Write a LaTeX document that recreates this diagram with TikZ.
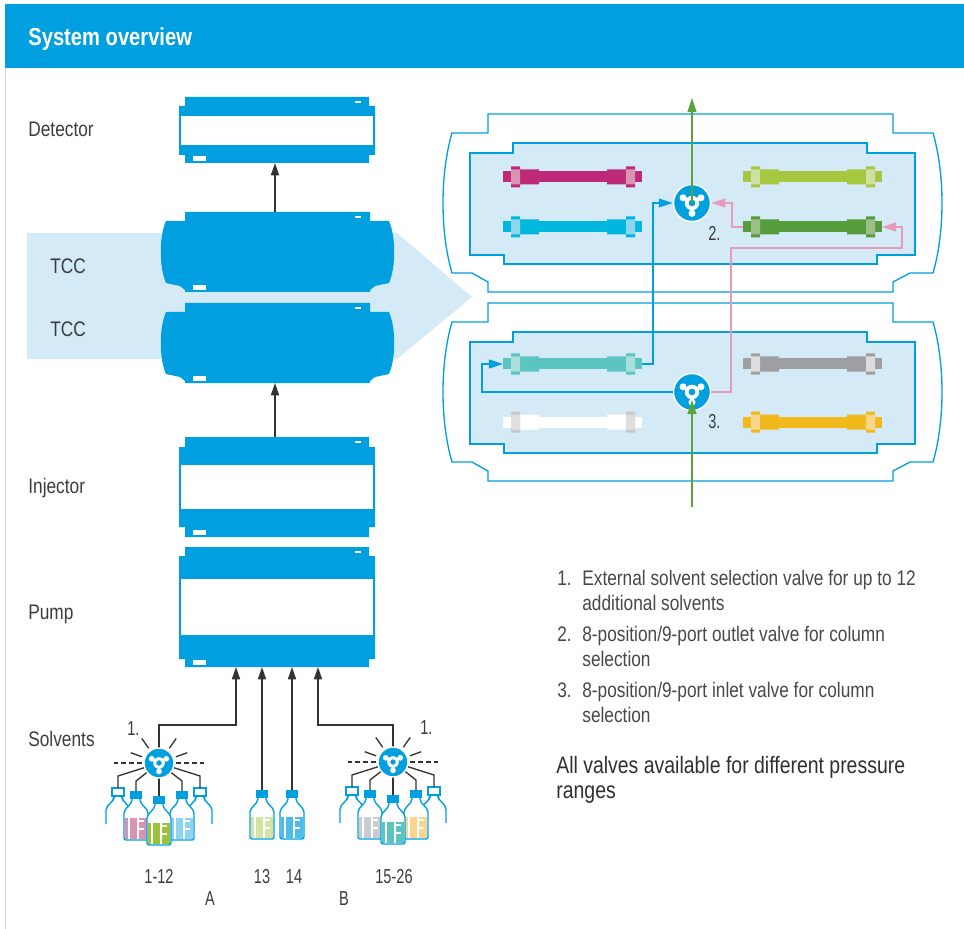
\documentclass[tikz,border=0pt]{standalone}
\usepackage{fontspec}
\setmainfont{Liberation Sans}[FakeStretch=0.82]
\newfontfamily\numfont{Liberation Sans}[FakeStretch=0.72]
\definecolor{agblue}{HTML}{009FE0}
\definecolor{panelblue}{HTML}{D4EAF7}
\definecolor{linegrey}{HTML}{333333}
\definecolor{labelgrey}{HTML}{3C3C3C}
\definecolor{notegrey}{HTML}{484848}
\definecolor{framegrey}{HTML}{D5D5D5}
\definecolor{flowgreen}{HTML}{5AA33C}
\definecolor{flowpink}{HTML}{E59CBC}
% column bodies and their end fittings
\definecolor{colmagenta}{HTML}{BE2A78}\definecolor{fitmagenta}{HTML}{D994B4}
\definecolor{colcyan}{HTML}{00B7E0}\definecolor{fitcyan}{HTML}{8CD7EF}
\definecolor{collime}{HTML}{A6C740}\definecolor{fitlime}{HTML}{CFE1A0}
\definecolor{colgreen}{HTML}{569C3C}\definecolor{fitgreen}{HTML}{9CBF88}
\definecolor{colteal}{HTML}{5CC4C1}\definecolor{fitteal}{HTML}{A9DFDC}
\definecolor{colgrey}{HTML}{9D9FA2}\definecolor{fitgrey}{HTML}{DCDDDE}
\definecolor{colyellow}{HTML}{F2B91C}\definecolor{fityellow}{HTML}{F9D68C}
\definecolor{fitwhite}{HTML}{C8C8C8}\definecolor{fitwhitein}{HTML}{DFDFDF}
% solvent colours
\definecolor{solpink}{HTML}{D994B2}
\definecolor{solgreen}{HTML}{9CC23C}
\definecolor{sollblue}{HTML}{8FD4EE}
\definecolor{solgrey}{HTML}{C8CDD2}
\definecolor{solteal}{HTML}{5CC4C1}
\definecolor{solorange}{HTML}{F9D690}
\definecolor{sollime}{HTML}{D2E3A4}
\definecolor{solblue}{HTML}{4CBDE9}
\usetikzlibrary{arrows.meta,calc}

% stacked module: name, tab top, body top, body bottom, tab bottom, window top, window bottom
\newcommand{\stackmodule}[7]{%
  \fill[agblue] (185,#2) -- (369,#2) -- (369,#3) -- (375,#3) -- (375,#4) -- (369,#4)
    -- (369,#5) -- (185,#5) -- (185,#4) -- (179,#4) -- (179,#3) -- (185,#3) -- cycle;
  \fill[white] (181,#6) rectangle (373,#7);
  \fill[white] (355,{#2+4}) rectangle (361,{#2+6});
  \fill[white] (193,{#5-7}) rectangle (206,{#5-2});
  \coordinate (#1-top) at (275,#2);
  \coordinate (#1-bot) at (275,#5);}

% column compartment with bulged sides: name, tab top
\newcommand{\tccmodule}[2]{%
  \fill[agblue] (185,#2) -- (370,#2) -- (370,{#2+9}) -- (389,{#2+9})
    .. controls (396,{#2+25}) and (396,{#2+55}) .. (389,{#2+71})
    -- (375,{#2+74}) -- (370,{#2+78}) -- (370,{#2+80}) -- (185,{#2+80}) -- (185,{#2+78})
    -- (180,{#2+74}) -- (166,{#2+71})
    .. controls (159,{#2+55}) and (159,{#2+25}) .. (166,{#2+9}) -- (185,{#2+9}) -- cycle;
  \fill[white] (355,{#2+4}) rectangle (361,{#2+6});
  \fill[white] (193,{#2+73}) rectangle (206,{#2+78});
  \coordinate (#1-top) at (275,#2);
  \coordinate (#1-bot) at (275,{#2+80});}

% opened compartment outline with its column bay
\newcommand{\compartment}[1]{%
  \draw[agblue, line width=0.75pt] (488,#1) -- (893,#1) -- (893,{#1+19}) -- (933,{#1+19})
    .. controls (945,{#1+60}) and (945,{#1+118}) .. (933,{#1+159}) -- (910,{#1+159})
    -- (893,{#1+168}) -- (893,{#1+178}) -- (488,{#1+178}) -- (488,{#1+168}) -- (472,{#1+159})
    -- (452,{#1+159}) .. controls (440,{#1+118}) and (440,{#1+60}) .. (452,{#1+19})
    -- (488,{#1+19}) -- cycle;
  \filldraw[fill=panelblue, draw=agblue, line width=0.75pt] (513,{#1+29}) -- (867,{#1+29})
    -- (867,{#1+39}) -- (915,{#1+39}) -- (915,{#1+141}) -- (877,{#1+141}) -- (877,{#1+150})
    -- (504,{#1+150}) -- (504,{#1+141}) -- (470,{#1+141}) -- (470,{#1+39}) -- (513,{#1+39}) -- cycle;}

% column: name, left x, centre y, body, fitting, fitting window
\newcommand{\lccolumn}[6]{%
  \begin{scope}[shift={(#2,#3)}]
    \fill[#4] (0,-5.5) rectangle (139,5.5);
    \fill[#4] (17,-7.5) rectangle (36,7.5) (104,-7.5) rectangle (123,7.5);
    \fill[#5] (8,-10.5) rectangle (17,10.5) (123,-10.5) rectangle (132,10.5);
    \fill[#6] (8,-7.5) rectangle (17,7.5) (123,-7.5) rectangle (132,7.5);
  \end{scope}
  \coordinate (#1-in) at (#2,#3);
  \coordinate (#1-out) at ({#2+139},#3);}

% selection valve: node name, centre, radius
\newcommand{\valvedisc}[3]{%
  \node[valve, minimum size={#3*0.04cm}] (#1) at (#2) {};
  \begin{scope}[shift={(#2)}, scale={#3/10}]
    \foreach \a in {210,330,90} {
      \draw[white, line width={#3*0.0034cm}] (\a:3) -- (\a:5.6);
      \fill[white] (\a:5.6) circle (1.9);
    }
    \fill[white, even odd rule] (0,0) circle (3.9) (0,0) circle (1.9);
  \end{scope}}

% solvent bottles: name, cap top (x,y), liquid
\newcommand{\frontbottle}[3]{%
  \coordinate (#1) at (#2);
  \begin{scope}[shift={(#2)}]
    \filldraw[fill=white, draw=agblue, line width=0.8pt, rounded corners=1.2pt]
      (-4,8) -- (-4,11) -- (-12,20) -- (-12,49) -- (12,49) -- (12,20) -- (4,11) -- (4,8);
    \fill[#3] (-10.6,27) rectangle (10.6,47.6);
    \draw[white, line width=0.7pt] (-7,27) -- (-7,47.6) (2,27) -- (2,47.6)
      (2,30) -- (8,30) (2,38) -- (8,38);
    \fill[agblue] (-6,0) rectangle (6,8);
  \end{scope}}
\newcommand{\backbottle}[2]{%
  \coordinate (#1) at (#2);
  \begin{scope}[shift={(#2)}]
    \filldraw[fill=white, draw=agblue, line width=0.8pt, rounded corners=1.2pt]
      (-12,36) -- (-12,20) -- (-4,11) -- (-4,8) -- (4,8) -- (4,11) -- (12,20) -- (12,36);
    \filldraw[fill=white, draw=agblue, line width=0.8pt] (-6,0) rectangle (6,8);
  \end{scope}}

\begin{document}
\begin{tikzpicture}[x=0.02cm, y=-0.02cm,
    lbl/.style={font=\fontsize{12}{14}\selectfont, text=labelgrey, inner sep=0pt, anchor=base west},
    note/.style={font=\fontsize{12}{14}\selectfont, text=notegrey, inner sep=0pt, anchor=base west},
    num/.style={font=\numfont\fontsize{11.5}{13}\selectfont, text=labelgrey, inner sep=0pt, anchor=base},
    arr/.style={draw=linegrey, line width=0.75pt, -{Triangle[length=7pt,width=4.6pt]}},
    feed/.style={draw=linegrey, line width=0.75pt},
    pipe/.style={line width=0.9pt, -{Triangle[length=8pt,width=5pt]}},
    valve/.style={circle, fill=agblue, draw=white, line width=0.8pt, inner sep=0pt}
]
    \useasboundingbox (0,0) rectangle (964,929);
    \fill[white] (0,0) rectangle (964,929);

    % title bar and page edge
    \draw[framegrey, line width=0.7pt] (5.5,68) -- (5.5,929);
    \fill[agblue] (5,4) rectangle (964,68);
    \node[font=\bfseries\fontsize{14}{16}\selectfont, text=white, inner sep=0pt, anchor=base west]
        (title) at (28,46) {System overview};

    % band linking the compartments to the opened view
    \fill[panelblue] (27,233) -- (397,233) -- (472,297) -- (397,359) -- (27,359) -- cycle;

    % module stack
    \stackmodule{det}{97}{106}{155}{163}{116}{145}
    \tccmodule{tcca}{212}
    \tccmodule{tccb}{303}
    \stackmodule{inj}{437}{447}{527}{537}{465}{509}
    \stackmodule{pump}{547}{556}{659}{667}{579}{635}

    \draw[arr] (tcca-top) -- (det-bot);
    \draw[arr] (inj-top) -- (tccb-bot);

    \node[lbl] (l-det) at (28,137) {Detector};
    \node[lbl] (l-tcca) at (50,274) {TCC};
    \node[lbl] (l-tccb) at (50,337) {TCC};
    \node[lbl] (l-inj) at (28,493) {Injector};
    \node[lbl] (l-pump) at (28,619) {Pump};
    \node[lbl] (l-solv) at (28,746) {Solvents};

    % opened compartments
    \compartment{114}
    \compartment{303}

    \lccolumn{magenta}{503}{177}{colmagenta}{colmagenta}{fitmagenta}
    \lccolumn{cyan}{503}{227}{colcyan}{colcyan}{fitcyan}
    \lccolumn{lime}{743}{177}{collime}{collime}{fitlime}
    \lccolumn{dgreen}{743}{227}{colgreen}{colgreen}{fitgreen}
    \lccolumn{teal}{503}{364}{colteal}{colteal}{fitteal}
    \lccolumn{grey}{743}{364}{colgrey}{colgrey}{fitgrey}
    \lccolumn{white}{503}{422}{white}{fitwhite}{fitwhitein}
    \lccolumn{yellow}{743}{422}{colyellow}{colyellow}{fityellow}

    \valvedisc{v2}{692,203}{18.5}
    \valvedisc{v3}{692,392}{18.5}

    \draw[pipe, agblue] (v3.west) -- ++(-191,0) |- (teal-in);
    \draw[pipe, agblue] (teal-out) -- ++(11,0) |- (v2.west);
    \draw[pipe, flowpink] (v3.east) -- ++(20,0) -- ++(0,-144) -- ++(171,0) |- (dgreen-out);
    \draw[pipe, flowpink] (dgreen-in) -- ++(-11,0) |- (v2.east);

    \coordinate (outlet) at (692,98);
    \coordinate (inlet) at (692,507);
    \draw[pipe, flowgreen] (v2.center) -- (outlet);
    \draw[pipe, flowgreen] (inlet) -- ([yshift=-0.16cm]v3.center);

    \node[num, anchor=base west] (n2) at (708,241) {2.};
    \node[num, anchor=base west] (n3) at (708,428) {3.};

    % solvent supply A
    \coordinate (vA) at (159,763);
    \foreach \a in {200,235,305,340}
        \draw[feed] (vA) ++(\a:18) -- ++(\a:12);
    \draw[feed, dash pattern=on 2.6pt off 2pt] (vA) ++(-17,0) -- ++(-28,0) (vA) ++(17,0) -- ++(28,0);
    \backbottle{a1}{118,788}
    \backbottle{a5}{200,788}
    \frontbottle{a2}{136,791}{solpink}
    \frontbottle{a4}{182,791}{sollblue}
    \frontbottle{a3}{159,796}{solgreen}
    \foreach \b/\dx/\dy in {a1/-41/13, a2/-23/18, a4/23/18, a5/41/13}
        \draw[feed] (vA) -- ++(\dx,\dy) -- (\b);
    \draw[feed] (vA) -- (a3);
    \draw[arr] (vA) |- ++(77,-38) -- ($(pump-bot)+(-39,0)$);
    \valvedisc{selA}{vA}{15}

    % solvent supply B
    \coordinate (vB) at (393,762);
    \foreach \a in {200,235,305,340}
        \draw[feed] (vB) ++(\a:18) -- ++(\a:12);
    \draw[feed, dash pattern=on 2.6pt off 2pt] (vB) ++(-17,0) -- ++(-28,0) (vB) ++(17,0) -- ++(28,0);
    \backbottle{b1}{352,787}
    \backbottle{b5}{434,787}
    \frontbottle{b2}{370,790}{solgrey}
    \frontbottle{b4}{416,790}{solorange}
    \frontbottle{b3}{393,795}{solteal}
    \foreach \b/\dx/\dy in {b1/-41/13, b2/-23/18, b4/23/18, b5/41/13}
        \draw[feed] (vB) -- ++(\dx,\dy) -- (\b);
    \draw[feed] (vB) -- (b3);
    \draw[arr] (vB) |- ++(-75,-37) -- ($(pump-bot)+(43,0)$);
    \valvedisc{selB}{vB}{15}

    % single bottles
    \frontbottle{s13}{262,790}{sollime}
    \frontbottle{s14}{292,790}{solblue}
    \draw[arr] (s13) -- (s13 |- pump-bot);
    \draw[arr] (s14) -- (s14 |- pump-bot);

    \node[num, anchor=base west] (n1a) at (127,735) {1.};
    \node[num, anchor=base west] (n1b) at (420,734) {1.};
    \node[num] (r112) at (159,883) {1-12};
    \node[num] (r13) at (262,883) {13};
    \node[num] (r14) at (294,883) {14};
    \node[num] (r1526) at (394,883) {15-26};
    \node[num] (grpA) at (210,905) {A};
    \node[num] (grpB) at (344,905) {B};

    % legend
    \node[note] (k1) at (557,585) {1.};
    \node[note] (k1a) at (582,585) {External solvent selection valve for up to 12};
    \node[note] (k1b) at (582,610) {additional solvents};
    \node[note] (k2) at (557,641) {2.};
    \node[note] (k2a) at (582,641) {8-position/9-port outlet valve for column};
    \node[note] (k2b) at (582,666) {selection};
    \node[note] (k3) at (557,697) {3.};
    \node[note] (k3a) at (582,697) {8-position/9-port inlet valve for column};
    \node[note] (k3b) at (582,722) {selection};
    \node[note, font=\fontsize{13.5}{16}\selectfont, text=labelgrey!80!black] (all1) at (556,773)
        {All valves available for different pressure};
    \node[note, font=\fontsize{13.5}{16}\selectfont, text=labelgrey!80!black] (all2) at (556,798)
        {ranges};
\end{tikzpicture}
\end{document}
